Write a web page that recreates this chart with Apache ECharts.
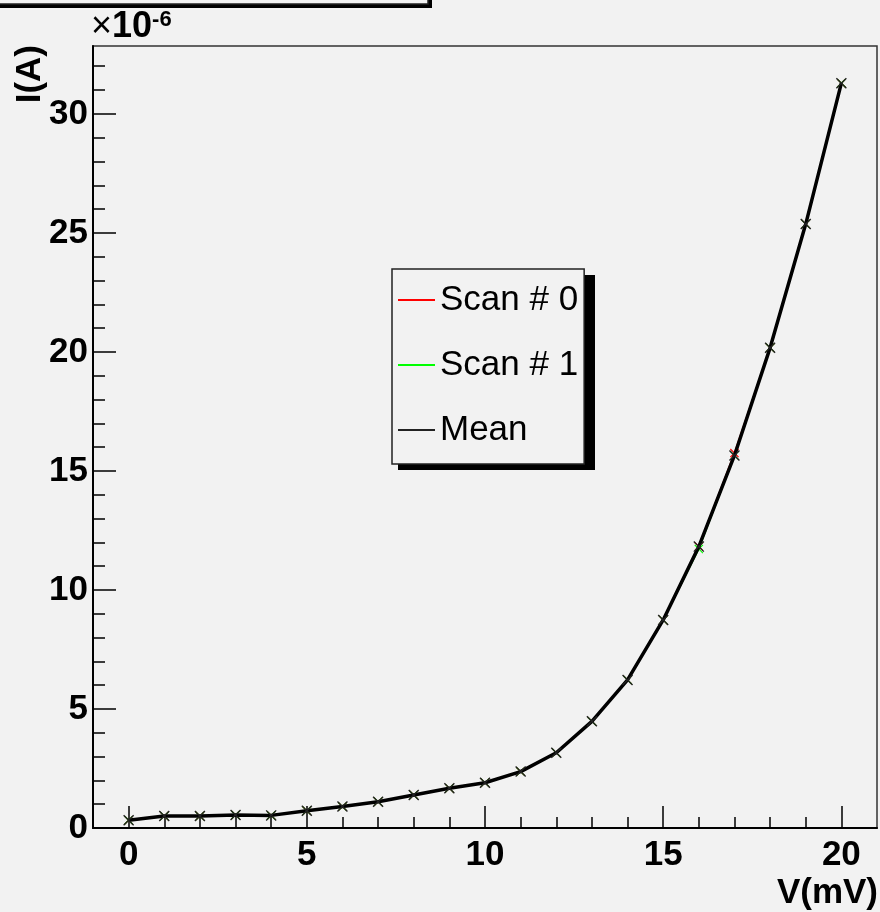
<!DOCTYPE html>
<html>
<head>
<meta charset="utf-8">
<script src="https://cdn.jsdelivr.net/npm/echarts@6/dist/echarts.min.js"></script>
<style>
  html, body { margin: 0; padding: 0; background: #f2f2f2; }
  #chart { width: 880px; height: 912px; }
</style>
</head>
<body>
<div id="chart"></div>
<script>
// ---- data (current in units of 1e-6 A) ----
const voltage = [0, 1, 2, 3, 4, 5, 6, 7, 8, 9, 10, 11, 12, 13, 14, 15, 16, 17, 18, 19, 20];
const meanCurrent = [0.33, 0.5, 0.5, 0.55, 0.53, 0.72, 0.9, 1.1, 1.39, 1.67, 1.9, 2.37, 3.16, 4.48, 6.22, 8.74, 11.82, 15.65, 20.17, 25.37, 31.29];
const scan0Current = [0.33, 0.5, 0.5, 0.55, 0.53, 0.72, 0.9, 1.1, 1.39, 1.67, 1.9, 2.37, 3.16, 4.48, 6.22, 8.74, 11.82, 15.75, 20.17, 25.37, 31.29];
const scan1Current = [0.33, 0.5, 0.5, 0.55, 0.53, 0.72, 0.9, 1.1, 1.39, 1.67, 1.9, 2.37, 3.16, 4.48, 6.22, 8.74, 11.72, 15.65, 20.17, 25.37, 31.29];
const seriesNames = ['Scan # 0', 'Scan # 1', 'Mean'];
const xMajorTicks = [0, 5, 10, 15, 20];
const xMinorTicks = [0, 1, 2, 3, 4, 5, 6, 7, 8, 9, 10, 11, 12, 13, 14, 15, 16, 17, 18, 19, 20];
const yMajorTicks = [0, 5, 10, 15, 20, 25, 30];
const yMinorTicks = [0, 1, 2, 3, 4, 5, 6, 7, 8, 9, 10, 11, 12, 13, 14, 15, 16, 17, 18, 19, 20, 21, 22, 23, 24, 25, 26, 27, 28, 29, 30, 31, 32];

const pairs = (xs, ys) => xs.map((x, i) => [x, ys[i]]);
const FONT = '"Liberation Sans", Arial, Helvetica, sans-serif';
const XMARK = 'path://M0,0.9L0.9,0L5,4.1L9.1,0L10,0.9L5.9,5L10,9.1L9.1,10L5,5.9L0.9,10L0,9.1L4.1,5Z';

const chart = echarts.init(document.getElementById('chart'), null, { renderer: 'canvas' });

const option = {
  backgroundColor: '#f2f2f2',
  animation: false,
  grid: {
    left: 93, top: 46, right: 3, bottom: 84,
    show: true, borderColor: '#333', borderWidth: 1.5, backgroundColor: 'transparent'
  },
  legend: {
    left: 392, top: 269,
    orient: 'vertical',
    data: seriesNames,
    icon: 'rect',
    itemWidth: 37, itemHeight: 2,
    itemGap: 25,
    itemTextGap: 6,
    padding: [11, 6, 14, 6],
    backgroundColor: '#f2f2f2',
    borderColor: '#222', borderWidth: 1.5,
    textStyle: { fontFamily: FONT, fontSize: 35, color: '#000', lineHeight: 40 },
    z: 10
  },
  xAxis: [
    {
      type: 'value', min: -1, max: 21,
      splitLine: { show: false },
      axisLine: { show: true, onZero: false, lineStyle: { color: '#000', width: 2 } },
      axisTick: { show: true, inside: true, length: 22, customValues: xMajorTicks, lineStyle: { color: '#000', width: 1.5 } },
      axisLabel: { customValues: xMajorTicks, margin: 10, fontFamily: FONT, fontSize: 35, fontWeight: 'bold', color: '#000' }
    },
    {
      type: 'value', min: -1, max: 21, position: 'bottom',
      splitLine: { show: false },
      axisLine: { show: false, onZero: false },
      axisTick: { show: true, inside: true, length: 11, customValues: xMinorTicks, lineStyle: { color: '#000', width: 1.5 } },
      axisLabel: { show: false }
    }
  ],
  yAxis: [
    {
      type: 'value', min: 0, max: 32.85,
      splitLine: { show: false },
      axisLine: { show: true, onZero: false, lineStyle: { color: '#000', width: 2 } },
      axisTick: { show: true, inside: true, length: 23, customValues: yMajorTicks, lineStyle: { color: '#000', width: 1.5 } },
      axisLabel: { customValues: yMajorTicks, margin: 5, fontFamily: FONT, fontSize: 35, fontWeight: 'bold', color: '#000' }
    },
    {
      type: 'value', min: 0, max: 32.85, position: 'left', offset: 0,
      splitLine: { show: false },
      axisLine: { show: false, onZero: false },
      axisTick: { show: true, inside: true, length: 12, customValues: yMinorTicks, lineStyle: { color: '#000', width: 1.5 } },
      axisLabel: { show: false }
    }
  ],
  series: [
    {
      name: seriesNames[0], type: 'line', xAxisIndex: 0, yAxisIndex: 0,
      data: pairs(voltage, scan0Current),
      color: '#ff0000',
      lineStyle: { color: '#ff0000', width: 1.5 },
      symbol: XMARK, symbolSize: 9, showAllSymbol: true,
      itemStyle: { color: '#ff0000' }, z: 2
    },
    {
      name: seriesNames[1], type: 'line', xAxisIndex: 0, yAxisIndex: 0,
      data: pairs(voltage, scan1Current),
      color: '#00ff00',
      lineStyle: { color: '#00ff00', width: 1.5 },
      symbol: XMARK, symbolSize: 9, showAllSymbol: true,
      itemStyle: { color: '#00ff00' }, z: 3
    },
    {
      name: seriesNames[2], type: 'line', xAxisIndex: 0, yAxisIndex: 0,
      data: pairs(voltage, meanCurrent),
      color: '#000000',
      lineStyle: { color: '#000', width: 3.5 },
      symbol: XMARK, symbolSize: 11, showAllSymbol: true,
      itemStyle: { color: '#222' }, z: 4
    }
  ],
  graphic: [
    // ROOT title pave (mostly off-canvas)
    { type: 'rect', z: 1, shape: { x: -1, y: -46, width: 433, height: 54 }, style: { fill: '#000' } },
    { type: 'rect', z: 2, shape: { x: -5, y: -50, width: 433, height: 54 }, style: { fill: '#f2f2f2', stroke: '#222', lineWidth: 1.5 } },
    // legend shadow
    { type: 'rect', z: 5, shape: { x: 398, y: 275, width: 197, height: 195 }, style: { fill: '#000' } },
    // axis titles
    { type: 'text', z: 20, x: 878, y: 893,
      style: { text: 'V(mV)', font: 'bold 35px ' + FONT, fill: '#000', textAlign: 'right', textVerticalAlign: 'middle' } },
    { type: 'text', z: 20, x: 30, y: 45, rotation: Math.PI / 2,
      style: { text: 'I(A)', font: 'bold 35px ' + FONT, fill: '#000', textAlign: 'right', textVerticalAlign: 'middle' } },
    // exponent
    { type: 'text', z: 20, x: 91, y: 45,
      style: {
        text: '{a|×}{b|10}{c|-6}',
        textAlign: 'left', textVerticalAlign: 'bottom',
        rich: {
          a: { fontFamily: FONT, fontSize: 36, color: '#000', verticalAlign: 'bottom' },
          b: { fontFamily: FONT, fontSize: 36, fontWeight: 'bold', color: '#000', verticalAlign: 'bottom' },
          c: { fontFamily: FONT, fontSize: 22, fontWeight: 'bold', color: '#000', verticalAlign: 'top' }
        }
      } }
  ]
};

chart.setOption(option);
</script>
</body>
</html>
